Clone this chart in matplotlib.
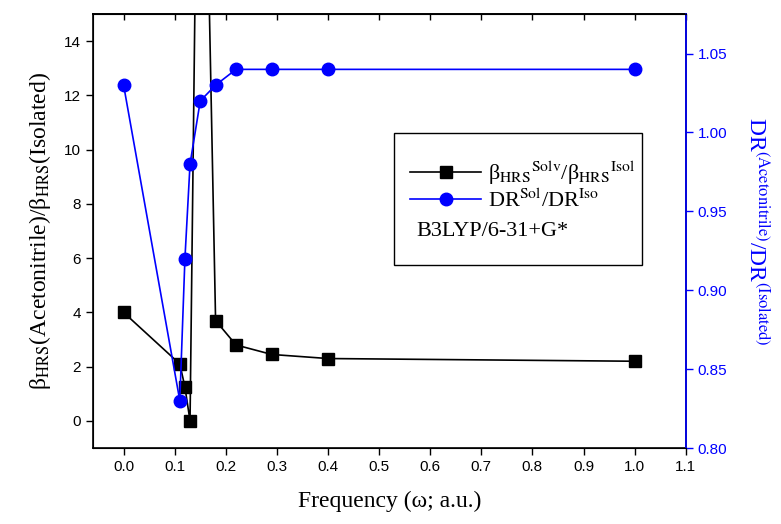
#!/usr/bin/env python3
'''
Solvent effect on beta_HRS and DR ratio versus frequency (B3LYP/6-31+G*).
'''

import matplotlib
matplotlib.use("Agg")
import matplotlib.pyplot as plt
from matplotlib.patches import Rectangle
from matplotlib.lines import Line2D

plt.rcParams['mathtext.fontset'] = 'stix'
plt.rcParams['font.family'] = ['Liberation Sans', 'DejaVu Sans']

# frequencies (a.u.)
freq = [0.0, 0.11, 0.12, 0.13, 0.15, 0.18, 0.22, 0.29, 0.40, 1.0]
# beta_HRS(solv)/beta_HRS(isol) -- point at 0.15 goes off the top
beta_ratio = [4.0, 2.1, 1.25, 0.0, 32.0, 3.7, 2.8, 2.45, 2.3, 2.2]
# DR(solv)/DR(iso)
dr_ratio = [1.03, 0.83, 0.92, 0.98, 1.02, 1.03, 1.04, 1.04, 1.04, 1.04]

xticks = [0.0, 0.1, 0.2, 0.3, 0.4, 0.5, 0.6, 0.7, 0.8, 0.9, 1.0, 1.1]
rticks = [0.80, 0.85, 0.90, 0.95, 1.00, 1.05]

serif = ['Liberation Serif', 'DejaVu Serif']

fig = plt.figure(figsize=(7.81, 5.24), dpi=100)
ax = fig.add_axes([0.119, 0.145, 0.759, 0.828])
ax.plot(freq, beta_ratio, '-', color='black', lw=1.2, marker='s', ms=8)
ax.set_xlim(-0.06, 1.1)
ax.set_ylim(-1, 15)
ax.set_xticks(xticks)
ax.set_xticklabels(["%.1f" % t for t in xticks])
ax.set_yticks(range(0, 15, 2))
ax.tick_params(axis='both', labelsize=11, direction='out', length=5, width=1)
for s in ax.spines.values():
    s.set_linewidth(1.2)
# inward ticks on the top spine
top = ax.secondary_xaxis('top')
top.set_xticks(xticks)
top.tick_params(direction='in', length=4, width=1, labeltop=False)
top.spines['top'].set_linewidth(1.2)

ax.set_xlabel(u'Frequency (\u03c9; a.u.)', family=serif, fontsize=17, labelpad=12)
ax.set_ylabel(u'\u03b2$_{\\rm HRS}$(Acetonitrile)/\u03b2$_{\\rm HRS}$(Isolated)',
              family=serif, fontsize=17, labelpad=8)

ax2 = ax.twinx()
ax2.plot(freq, dr_ratio, '-', color='blue', lw=1.2, marker='o', ms=9)
ax2.set_ylim(0.80, 1.075)
ax2.set_yticks(rticks)
ax2.set_yticklabels(["%.2f" % t for t in rticks])
ax2.tick_params(axis='y', colors='blue', labelsize=11, direction='out', length=5, width=1)
ax2.spines['right'].set_color('blue')
ax2.spines['right'].set_linewidth(1.2)
ax2.set_ylabel(r'DR$^{\rm (Acetonitrile)}$/DR$^{\rm (Isolated)}$', color='blue',
               family=serif, fontsize=17, rotation=270, labelpad=30)

# legend box
ax2.add_patch(Rectangle((0.508, 0.422), 0.418, 0.304, transform=ax2.transAxes,
                        fill=False, edgecolor='black', lw=1.0, zorder=5))
h1 = Line2D([], [], color='black', lw=1.2, marker='s', ms=8)
h2 = Line2D([], [], color='blue', lw=1.2, marker='o', ms=9)
leg = ax2.legend([h1, h2],
                 [u'\u03b2$_{\\rm HRS}$$^{\\rm Solv}$/\u03b2$_{\\rm HRS}$$^{\\rm Isol}$',
                  r'DR$^{\rm Sol}$/DR$^{\rm Iso}$'],
                 loc='upper left', bbox_to_anchor=(0.52, 0.685), frameon=False,
                 prop={'family': serif, 'size': 16}, handlelength=3.2,
                 handletextpad=0.3, labelspacing=0.1, borderaxespad=0)
ax2.text(0.545, 0.50, 'B3LYP/6-31+G*', transform=ax2.transAxes,
         family=serif, fontsize=16, va='center')

fig.savefig('out.png', dpi=100)
